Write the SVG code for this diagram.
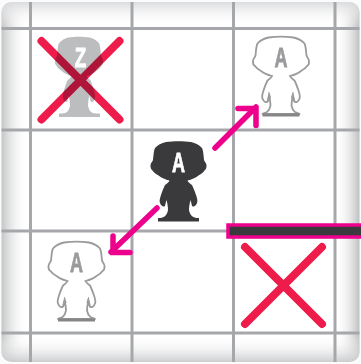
<svg xmlns="http://www.w3.org/2000/svg" width="361" height="364" viewBox="0 0 361 364">
<style>
.grid{stroke:#a5a7aa;stroke-width:3;fill:none}
.x{stroke:#ee1c4a;stroke-width:8;stroke-linecap:round;fill:none}
.arrow{stroke:#ec008c;stroke-width:5.500;stroke-linecap:round;stroke-linejoin:miter;fill:none}
.lbl{font-family:"Liberation Sans",Arial,sans-serif;font-weight:700;font-size:27px;text-anchor:middle;stroke-width:.8}
</style>
<defs>
<linearGradient id="gl" x1="0" x2="1" y1="0" y2="0"><stop offset="0" stop-color="#bdbec0"/><stop offset="1" stop-color="#fff" stop-opacity="0"/></linearGradient>
<linearGradient id="gr" x1="1" x2="0" y1="0" y2="0"><stop offset="0" stop-color="#b5b6b8"/><stop offset="1" stop-color="#fff" stop-opacity="0"/></linearGradient>
<linearGradient id="gt" x1="0" x2="0" y1="0" y2="1"><stop offset="0" stop-color="#d5d6d8"/><stop offset="1" stop-color="#fff" stop-opacity="0"/></linearGradient>
<linearGradient id="gb" x1="0" x2="0" y1="1" y2="0"><stop offset="0" stop-color="#c5c6c8"/><stop offset="1" stop-color="#fff" stop-opacity="0"/></linearGradient>
<clipPath id="frame"><rect x="1.500" y="2" width="358" height="360" rx="10"/></clipPath>
<path id="fig" d="M-12.500 0C-5 -1 5 -1 12.500 0C17 1 21 3 23.500 6C25 9 25 14 25.500 18C26 20 28 21 28 23.500C28.200 26 27 28 26 28.500C25 30 23 32 20 33.500C17 36 13 37.500 9 38.500C9.500 40 11.500 41.500 13.500 43C15 46 16.500 50 17.500 53C18.500 56 19.500 59 18.500 61C17.500 64 15 65.500 13.500 64C13 61.500 12.500 60 12 58C11 62 10.500 65 10.500 68C11 71 12 73 14 74.500C16 75.500 18 76 19 76.500L-19 76.500C-18 76 -16 75.500 -14 74.500C-12 73 -11 71 -10.500 68C-10.500 65 -11 62 -12 58C-12.500 60 -13 61.500 -13.500 64C-15 65.500 -17.500 64 -18.500 61C-19.500 59 -18.500 56 -17.500 53C-16.500 50 -15 46 -13.500 43C-11.500 41.500 -9.500 40 -9 38.500C-13 37.500 -17 36 -20 33.500C-23 32 -25 30 -26 28.500C-27 28 -28.200 26 -28 23.500C-28 21 -26 20 -25.500 18C-25 14 -25 9 -23.500 6C-21 3 -17 1 -12.500 0Z"/>
<g id="outline">
<use href="#fig" fill="#fff" stroke="#9a9b9d" stroke-width="1.800"/>
<path d="M-12 55L-13 64L-10.500 60ZM12 55L13 64L10.500 60Z" fill="#9a9b9d" stroke="#9a9b9d" stroke-width="1"/>
<rect x="-18.500" y="76" width="37" height="3" fill="#858688"/>
</g>
</defs>
<rect width="361" height="364" fill="#fbfbfb"/>
<g clip-path="url(#frame)">
<rect width="361" height="364" fill="#fff"/>
<rect x="0" y="0" width="28" height="364" fill="url(#gl)"/>
<rect x="335" y="0" width="26" height="364" fill="url(#gr)"/>
<rect x="0" y="0" width="361" height="26" fill="url(#gt)"/>
<rect x="0" y="336" width="361" height="28" fill="url(#gb)"/>
<g id="grid" class="grid">
<path d="M30.500 2V362M132 2V362M233.500 2V362M335 2V362"/>
<path d="M0 28.500H361M0 130H361M0 231H361M0 333H361"/>
</g>
</g>
<g id="node-z">
<use href="#fig" transform="translate(79 37.500) scale(.86 1)" fill="#bcbdbf"/>
<rect x="59" y="113.500" width="41" height="3.500" fill="#bcbdbf"/>
<text class="lbl" x="80.500" y="66.500" fill="#fff" stroke="#fff" textLength="11.500" lengthAdjust="spacingAndGlyphs">Z</text>
</g>
<g id="node-a-center">
<use href="#fig" x="178.500" y="142" fill="#3a3a3c"/>
<rect x="158" y="218" width="41" height="3.500" fill="#3a3a3c"/>
<text class="lbl" x="178.500" y="172" fill="#fff" stroke="#fff" textLength="13" lengthAdjust="spacingAndGlyphs">A</text>
</g>
<g id="node-a-top">
<use href="#outline" x="281" y="37.500"/>
<text class="lbl" x="281" y="67" fill="#9a9b9d" stroke="#9a9b9d" textLength="13" lengthAdjust="spacingAndGlyphs">A</text>
</g>
<g id="node-a-bottom">
<use href="#outline" x="76.500" y="242.500"/>
<text class="lbl" x="76.500" y="272" fill="#9a9b9d" stroke="#9a9b9d" textLength="13" lengthAdjust="spacingAndGlyphs">A</text>
</g>
<g id="node-x-top"><path class="x" style="mix-blend-mode:multiply" d="M41.500 41L119.500 119.500M119.500 41L41.500 119.500"/></g>
<g id="node-x-bottom"><path class="x" d="M245 247L322 324M322 247L245 324"/></g>
<g id="node-wall"><rect x="228" y="225" width="140" height="12" fill="#3a3a3c" stroke="#ec008c" stroke-width="3.500"/></g>
<g id="connectors">
<path class="arrow" d="M215 148L256 107M238 108.500H256V125.500"/>
<path class="arrow" d="M157 208L111 252M113 236V252.500H130"/>
</g>
</svg>
